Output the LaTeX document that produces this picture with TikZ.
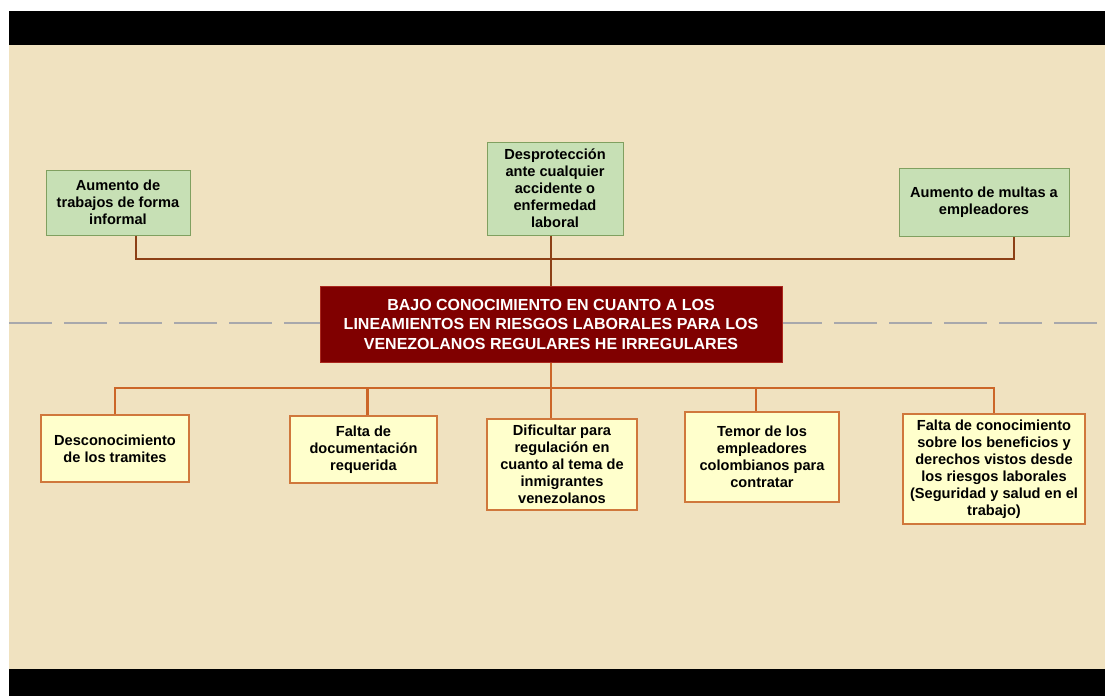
\documentclass[tikz,border=0pt]{standalone}
\usepackage{fontspec}
\setmainfont{Liberation Sans}
\usepackage{xcolor}
\usepackage{tikz}
\usetikzlibrary{positioning,calc}
\definecolor{paper}{RGB}{240,226,192}
\definecolor{leafgreen}{RGB}{199,224,181}
\definecolor{leafedge}{RGB}{128,160,96}
\definecolor{causeyellow}{RGB}{255,255,204}
\definecolor{causeedge}{RGB}{208,120,60}
\definecolor{rootred}{RGB}{128,0,0}
\definecolor{rootedge}{RGB}{170,40,30}
\definecolor{toplink}{RGB}{140,64,22}
\definecolor{botlink}{RGB}{204,102,40}
\definecolor{axisgray}{RGB}{168,168,172}

\begin{document}
\begin{tikzpicture}[
    x=1pt, y=-1pt,
    effect/.style={rectangle, draw=leafedge, line width=1pt, fill=leafgreen, align=center, inner sep=0pt, font=\fontsize{14.6}{17}\selectfont\bfseries},
    cause/.style={rectangle, draw=causeedge, line width=1.2pt, fill=causeyellow, align=center, inner sep=0pt, font=\fontsize{14.6}{17}\selectfont\bfseries},
    problem/.style={rectangle, draw=rootedge, line width=1pt, fill=rootred, text=white, align=center, inner sep=0pt, font=\fontsize{16}{19.5}\selectfont\bfseries},
    upline/.style={draw=toplink, line width=2.3pt},
    downline/.style={draw=botlink, line width=2.3pt},
    midline/.style={draw=axisgray, line width=2.5pt, dash pattern=on 43pt off 12pt}
]

% Frame: white margin, black bars, paper
\useasboundingbox (0,0) rectangle (1105,696);
\fill[white] (0,0) rectangle (1105,696);
\fill[black] (9,11) rectangle (1105,45);
\fill[paper] (9,45) rectangle (1105,669);
\fill[black] (9,669) rectangle (1105,696);

% Dashed axis behind the problem
\draw[midline] (9,323) -- (1105,323);

% Problem
\node[problem, minimum width=462, minimum height=76] (root) at (551,324) {BAJO CONOCIMIENTO EN CUANTO A LOS\\LINEAMIENTOS EN RIESGOS LABORALES PARA LOS\\VENEZOLANOS REGULARES HE IRREGULARES};

% Effects (top)
\node[effect, minimum width=144, minimum height=65] (eff1) at (118,202.5) {Aumento de\\trabajos de forma\\informal};
\node[effect, minimum width=136, minimum height=93] (eff2) at (555,188.5) {Desprotección\\ante cualquier\\accidente o\\enfermedad\\laboral};
\node[effect, minimum width=170, minimum height=68] (eff3) at (984,202) {Aumento de multas a\\empleadores};

\coordinate (topbus) at (551,259);
\draw[upline] ([xshift=18]eff1.south) |- (topbus) -| ([xshift=30]eff3.south);
\draw[upline] (eff2.south -| root.north) -- (root.north);

% Causes (bottom)
\node[cause, minimum width=148, minimum height=67] (cau1) at (115,448.5) {Desconocimiento\\de los tramites};
\node[cause, minimum width=147, minimum height=67] (cau2) at (363.5,449.5) {Falta de\\documentación\\requerida};
\node[cause, minimum width=150, minimum height=91] (cau3) at (562,464.5) {Dificultar para\\regulación en\\cuanto al tema de\\inmigrantes\\venezolanos};
\node[cause, minimum width=154, minimum height=90] (cau4) at (762,457) {Temor de los\\empleadores\\colombianos para\\contratar};
\node[cause, minimum width=182, minimum height=110] (cau5) at (994,469) {Falta de conocimiento\\sobre los beneficios y\\derechos vistos desde\\los riesgos laborales\\(Seguridad y salud en el\\trabajo)};

\coordinate (botbus) at (551,388);
\draw[downline] (root.south) -- (botbus);
\draw[downline] (cau1.north) |- (botbus) -| (cau5.north);
\draw[downline] ([xshift=4]cau2.north) -- ([xshift=4]cau2.north |- botbus);
\draw[downline] (botbus) -- (botbus |- cau3.north);
\draw[downline] ([xshift=-6]cau4.north) -- ([xshift=-6]cau4.north |- botbus);

\end{tikzpicture}
\end{document}
